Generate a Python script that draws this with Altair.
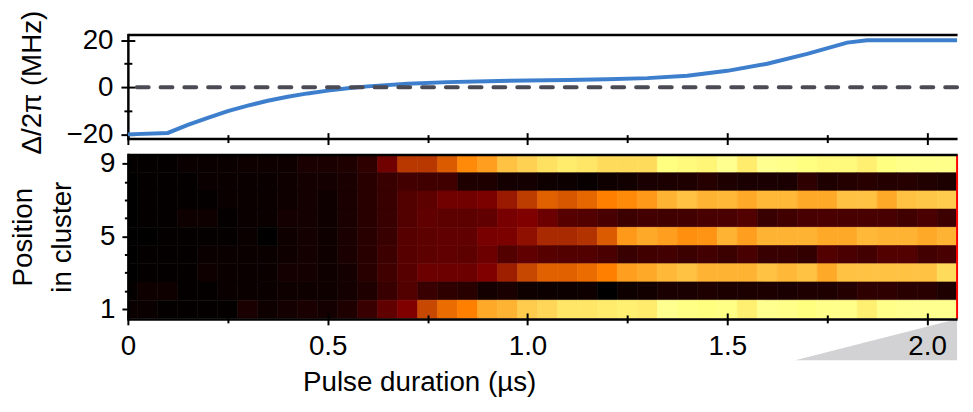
import altair as alt
import pandas as pd

# ---------------- data ----------------
# top panel: detuning sweep Delta/2pi (MHz) versus pulse duration (us)
sweep_time_us = [0.00, 0.10, 0.15, 0.20, 0.25, 0.30, 0.35, 0.40, 0.45, 0.50, 0.55,
                 0.60, 0.70, 0.80, 0.90, 1.00, 1.10, 1.20, 1.30, 1.40, 1.50, 1.60,
                 1.70, 1.80, 1.85, 2.075]
detuning_mhz = [-20.0, -19.4, -16.0, -13.0, -10.1, -7.8, -5.7, -4.0, -2.6, -1.4, -0.4,
                0.4, 1.5, 2.2, 2.6, 2.9, 3.1, 3.4, 3.9, 4.9, 7.0, 10.0,
                14.2, 19.0, 20.0, 20.0]
zero_level = [0]

# bottom panel: excitation map, time bins (us) x positions in cluster
time_bins_us = [0.00, 0.05, 0.10, 0.15, 0.20, 0.25, 0.30, 0.35, 0.40, 0.45,
                0.50, 0.55, 0.60, 0.65, 0.70, 0.75, 0.80, 0.85, 0.90, 0.95,
                1.00, 1.05, 1.10, 1.15, 1.20, 1.25, 1.30, 1.35, 1.40, 1.45,
                1.50, 1.55, 1.60, 1.65, 1.70, 1.75, 1.80, 1.85, 1.90, 1.95,
                2.00, 2.05]
bin_width_us = 0.05
positions = [9, 8, 7, 6, 5, 4, 3, 2, 1]

pos9 = [0.01, 0.01, 0.01, 0.02, 0.02, 0.02, 0.03, 0.03, 0.03, 0.05,
        0.05, 0.06, 0.09, 0.22, 0.36, 0.36, 0.43, 0.52, 0.56, 0.63, 0.66,
        0.69, 0.71, 0.70, 0.68, 0.68, 0.68, 0.75, 0.74, 0.73, 0.78, 0.71,
        0.78, 0.77, 0.75, 0.74, 0.74, 0.72, 0.75, 0.77, 0.77, 0.77]
pos8 = [0.00, 0.01, 0.01, 0.01, 0.02, 0.02, 0.02, 0.02, 0.03, 0.04,
        0.04, 0.05, 0.08, 0.11, 0.13, 0.125, 0.125, 0.06, 0.06, 0.04, 0.04,
        0.03, 0.025, 0.015, 0.03, 0.035, 0.05, 0.055, 0.06, 0.075, 0.06, 0.05,
        0.05, 0.05, 0.09, 0.06, 0.07, 0.08, 0.07, 0.075, 0.065, 0.055]
pos7 = [0.00, 0.01, 0.01, 0.01, 0.01, 0.02, 0.02, 0.02, 0.03, 0.04,
        0.03, 0.05, 0.08, 0.11, 0.16, 0.18, 0.22, 0.22, 0.24, 0.30, 0.37,
        0.44, 0.42, 0.45, 0.50, 0.52, 0.55, 0.60, 0.63, 0.60, 0.61, 0.58,
        0.61, 0.61, 0.58, 0.58, 0.63, 0.63, 0.58, 0.63, 0.64, 0.65]
pos6 = [0.00, 0.01, 0.01, 0.03, 0.03, 0.01, 0.02, 0.02, 0.04, 0.04,
        0.03, 0.05, 0.08, 0.11, 0.16, 0.19, 0.18, 0.18, 0.19, 0.235, 0.25,
        0.21, 0.17, 0.16, 0.14, 0.12, 0.13, 0.125, 0.13, 0.14, 0.145, 0.16,
        0.11, 0.125, 0.14, 0.145, 0.14, 0.14, 0.14, 0.125, 0.145, 0.12]
pos5 = [0.00, 0.00, 0.01, 0.01, 0.01, 0.01, 0.02, 0.00, 0.03, 0.04,
        0.03, 0.05, 0.08, 0.11, 0.17, 0.18, 0.19, 0.19, 0.235, 0.24, 0.28,
        0.33, 0.33, 0.35, 0.43, 0.55, 0.58, 0.56, 0.53, 0.54, 0.60, 0.56,
        0.60, 0.60, 0.60, 0.58, 0.58, 0.61, 0.60, 0.60, 0.58, 0.60]
pos4 = [0.00, 0.01, 0.01, 0.01, 0.02, 0.02, 0.02, 0.02, 0.03, 0.04,
        0.03, 0.05, 0.08, 0.12, 0.17, 0.18, 0.19, 0.18, 0.21, 0.16, 0.19,
        0.17, 0.16, 0.16, 0.145, 0.11, 0.125, 0.13, 0.115, 0.13, 0.115, 0.14,
        0.11, 0.11, 0.10, 0.16, 0.145, 0.13, 0.16, 0.16, 0.13, 0.14]
pos3 = [0.00, 0.01, 0.01, 0.01, 0.03, 0.02, 0.02, 0.02, 0.04, 0.04,
        0.03, 0.04, 0.08, 0.125, 0.17, 0.21, 0.21, 0.21, 0.25, 0.31, 0.39,
        0.44, 0.44, 0.46, 0.50, 0.56, 0.58, 0.61, 0.63, 0.60, 0.60, 0.60,
        0.63, 0.61, 0.63, 0.58, 0.63, 0.63, 0.63, 0.63, 0.63, 0.68]
pos2 = [0.01, 0.03, 0.03, 0.01, 0.01, 0.02, 0.02, 0.02, 0.03, 0.03,
        0.03, 0.04, 0.06, 0.11, 0.16, 0.11, 0.09, 0.08, 0.04, 0.05, 0.03,
        0.025, 0.025, 0.03, 0.00, 0.03, 0.035, 0.05, 0.05, 0.06, 0.055, 0.055,
        0.055, 0.05, 0.06, 0.06, 0.07, 0.09, 0.09, 0.08, 0.08, 0.06]
pos1 = [0.02, 0.02, 0.01, 0.01, 0.01, 0.01, 0.05, 0.03, 0.04, 0.05,
        0.04, 0.06, 0.11, 0.19, 0.25, 0.39, 0.46, 0.50, 0.58, 0.60, 0.65,
        0.67, 0.70, 0.70, 0.71, 0.72, 0.71, 0.78, 0.76, 0.75, 0.76, 0.72,
        0.78, 0.77, 0.75, 0.77, 0.77, 0.72, 0.77, 0.78, 0.78, 0.78]
rows = [pos9, pos8, pos7, pos6, pos5, pos4, pos3, pos2, pos1]

final_time_us = [2.075]
# grey ramp wedge under the time axis
ramp_time_us = [1.67, 2.075]
ramp_low = [-1.8, -1.8]
ramp_high = [-1.8, 0.47]

x_major = [0, 0.5, 1.0, 1.5, 2.0]
x_minor = [0.25, 0.75, 1.25, 1.75]
x_ticks = sorted(x_major + x_minor)
y_top_major = [-20, 0, 20]
y_top_minor = [-10, 10]
y_heat_ticks = [1, 2, 3, 4, 5, 6, 7, 8, 9]

# ---------------- tables ----------------
curve = pd.DataFrame({"t": sweep_time_us, "delta": detuning_mhz})
zero = pd.DataFrame({"level": zero_level})
heat = pd.DataFrame([
    {"t": t, "pos": p, "value": v}
    for p, vals in zip(positions, rows)
    for t, v in zip(time_bins_us, vals)
])
final = pd.DataFrame({"t": final_time_us})
ramp = pd.DataFrame({"t": ramp_time_us, "lo": ramp_low, "hi": ramp_high})

FONT = "Liberation Sans"
FS = 28
W = 837
xscale = alt.Scale(domain=[0, 2.075], nice=False, zero=False)
ytop = alt.Scale(domain=[-21.8, 22.4], nice=False, zero=False)
yheat = alt.Scale(domain=[0.47, 9.5], nice=False, zero=False)
hot = alt.Scale(domain=[0, 0.25, 0.5, 0.75, 1.0],
                range=["#000000", "#800000", "#ff8000", "#ffff80", "#ffffff"],
                interpolate="rgb")

common = dict(grid=False, tickColor="black", tickWidth=2, domainColor="black",
              domainWidth=2.5, labelFont=FONT, labelFontSize=FS, labelColor="black",
              titleFont=FONT, titleFontSize=FS, titleColor="black",
              titleFontWeight="normal", labelFlush=False)


def inner_axis(orient, values, size, z=0):
    return alt.Axis(orient=orient, values=values, offset=-size, tickSize=size,
                    tickColor="black", tickWidth=2, labels=False, domain=False,
                    title=None, zindex=z, grid=False)


def top_axis(z=0):
    return alt.Axis(orient="top", labels=False, ticks=False, domain=True,
                    domainColor="black", domainWidth=2.5, title=None, grid=False, zindex=z)


# ---------------- top panel ----------------
x_outer_top = alt.Axis(orient="bottom", values=x_ticks, labels=False, title=None,
                       tickSize={"condition": {"test": "datum.value % 0.5 != 0", "value": 4}, "value": 6},
                       **common)
y_outer_top = alt.Axis(orient="left", values=y_top_major + y_top_minor,
                       labelExpr="abs(datum.value) == 10 ? '' : datum.label",
                       tickSize={"condition": {"test": "abs(datum.value) == 10", "value": 4}, "value": 7},
                       labelPadding=8, title="Δ/2π (MHz)", titlePadding=20, titleY=48,
                       domainCap="square", **common)

line = alt.Chart(curve).mark_line(color="#3d7fcc", strokeWidth=4).encode(
    x=alt.X("t:Q", scale=xscale, axis=x_outer_top),
    y=alt.Y("delta:Q", scale=ytop, axis=y_outer_top),
)
zero_rule = alt.Chart(zero).mark_rule(color="#4b4b55", strokeWidth=4, strokeDash=[12, 12],
                                      strokeCap="round").encode(
    y=alt.Y("level:Q", scale=ytop, axis=inner_axis("left", y_top_major, 7)),
)
ghost_a = alt.Chart(curve).mark_point(opacity=0, size=1).encode(
    x=alt.X("t:Q", scale=xscale, axis=inner_axis("bottom", x_major, 6)),
    y=alt.Y("delta:Q", scale=ytop, axis=inner_axis("left", y_top_minor, 4)),
)
ghost_b = alt.Chart(curve).mark_point(opacity=0, size=1).encode(
    x=alt.X("t:Q", scale=xscale, axis=inner_axis("bottom", x_minor, 4)),
    y=alt.Y("delta:Q", scale=ytop, axis=None),
)
ghost_c = alt.Chart(curve).mark_point(opacity=0, size=1).encode(
    x=alt.X("t:Q", scale=xscale, axis=top_axis()),
    y=alt.Y("delta:Q", scale=ytop, axis=None),
)
top = alt.layer(line, zero_rule, ghost_a, ghost_b, ghost_c).resolve_axis(
    x="independent", y="independent").properties(width=W, height=105)

# ---------------- heat map ----------------
x_outer_heat = alt.Axis(orient="bottom", values=x_ticks,
                        labelExpr="datum.value % 0.5 != 0 ? '' : (datum.value == 0 ? '0' : format(datum.value, '.1f'))",
                        tickSize={"condition": {"test": "datum.value % 0.5 != 0", "value": 4}, "value": 6},
                        labelPadding=8, title="Pulse duration (µs)", titleX=294, titleY=72,
                        titleBaseline="alphabetic", zindex=1, **common)
y_outer_heat = alt.Axis(orient="left", values=y_heat_ticks,
                        labelExpr="(datum.value == 1 || datum.value == 5 || datum.value == 9) ? datum.label : ''",
                        tickSize={"condition": {"test": "datum.value == 1 || datum.value == 5 || datum.value == 9", "value": 6}, "value": 3.5},
                        labelPadding=7, title=["Position", "in cluster"], titlePadding=23,
                        titleLineHeight=40, zindex=1, domainCap="square", **common)

rects = alt.Chart(heat).transform_calculate(
    x0=f"datum.t - {bin_width_us / 2}", x1=f"datum.t + {bin_width_us / 2}",
    y0="datum.pos - 0.5", y1="datum.pos + 0.5",
).mark_rect(clip=True, strokeWidth=0.6).encode(
    x=alt.X("x0:Q", scale=xscale, axis=x_outer_heat),
    x2="x1:Q",
    y=alt.Y("y0:Q", scale=yheat, axis=y_outer_heat),
    y2="y1:Q",
    color=alt.Color("value:Q", legend=None, scale=hot),
    stroke=alt.Stroke("value:Q", legend=None, scale=hot),
)
red_rule = alt.Chart(final).mark_rule(color="#ff0000", strokeWidth=2).encode(
    x=alt.X("t:Q", scale=xscale, axis=inner_axis("bottom", x_major, 6, z=1)),
)
wedge = alt.Chart(ramp).mark_area(color="#d2d2d4", opacity=1).encode(
    x=alt.X("t:Q", scale=xscale, axis=top_axis(z=1)),
    y=alt.Y("lo:Q", scale=yheat, axis=None),
    y2="hi:Q",
)
ghost_d = alt.Chart(ramp).mark_point(opacity=0, size=1).encode(
    x=alt.X("t:Q", scale=xscale, axis=inner_axis("bottom", x_minor, 4, z=1)),
    y=alt.Y("hi:Q", scale=yheat, axis=None),
)
heatmap = alt.layer(wedge, rects, red_rule, ghost_d).resolve_axis(
    x="independent", y="independent").properties(width=W, height=166)

chart = alt.vconcat(top, heatmap, spacing=16, bounds="flush").properties(
    padding={"left": 1, "top": 0, "right": 0, "bottom": 0}
).configure_view(stroke=None)

chart.save("out.html", embed_options={"renderer": "svg", "actions": False})
